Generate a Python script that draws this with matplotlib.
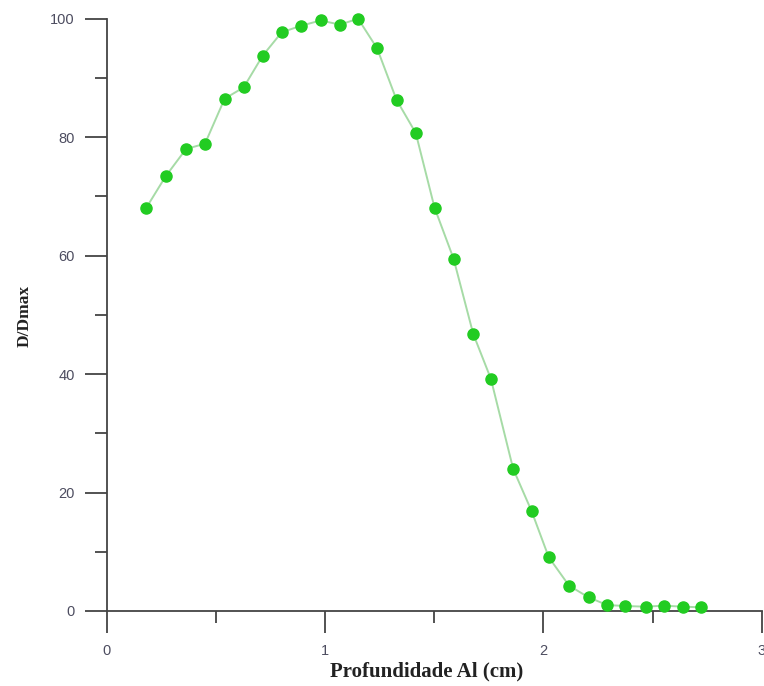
import matplotlib
matplotlib.use("Agg")
import matplotlib.pyplot as plt
from matplotlib.ticker import MultipleLocator

depth = [0.181, 0.271, 0.364, 0.451, 0.541, 0.628, 0.715, 0.802, 0.890, 0.980,
         1.069, 1.152, 1.239, 1.328, 1.416, 1.502, 1.589, 1.679, 1.760, 1.862,
         1.946, 2.025, 2.118, 2.207, 2.292, 2.376, 2.468, 2.551, 2.640, 2.722]
dose = [68.0, 73.4, 78.0, 78.9, 86.5, 88.4, 93.75, 97.7, 98.8, 99.7,
        99.0, 100.0, 95.0, 86.3, 80.7, 68.1, 59.5, 46.8, 39.2, 24.0,
        16.9, 9.07, 4.28, 2.31, 1.01, 0.84, 0.73, 0.90, 0.73, 0.62]
x_ticks = [0, 1, 2, 3]
y_ticks = [0, 20, 40, 60, 80, 100]
x_label = "Profundidade Al (cm)"
y_label = "D/Dmax"

W, H = 764, 686
fig = plt.figure(figsize=(W / 100, H / 100), dpi=100)
left, right = 106.5, 761.7
top, bottom = 18.7, 611.0
ax = fig.add_axes([left / W, 1 - bottom / H, (right - left) / W, (bottom - top) / H])

ax.plot(depth, dose, color="#a6dba6", lw=1.4, zorder=2, clip_on=False)
ax.plot(depth, dose, ls="none", marker="o", ms=8, mfc="#22cc22", mec="#22cc22",
        zorder=3, clip_on=False)

ax.set_xlim(0, 3)
ax.set_ylim(0, 100)
ax.set_xticks(x_ticks)
ax.set_yticks(y_ticks)
ax.xaxis.set_minor_locator(MultipleLocator(0.5))
ax.yaxis.set_minor_locator(MultipleLocator(10))

for s in ["top", "right"]:
    ax.spines[s].set_visible(False)
for s in ["left", "bottom"]:
    ax.spines[s].set_color("#444444")
    ax.spines[s].set_linewidth(1.3)

ax.tick_params(axis="both", which="major", direction="out", length=16, width=1.3,
               color="#444444", labelsize=10.5, labelcolor="#4d4d60")
ax.tick_params(axis="both", which="minor", direction="out", length=8.5, width=1.3,
               color="#444444")
ax.tick_params(axis="y", which="major", pad=7)
ax.tick_params(axis="x", which="major", pad=8)

for lab in ax.get_xticklabels() + ax.get_yticklabels():
    lab.set_fontfamily("Liberation Sans")

ax.set_xlabel(x_label, fontfamily="Liberation Serif", fontweight="bold", fontsize=15,
              color="#222222")
ax.set_ylabel(y_label, fontfamily="Liberation Serif", fontweight="bold", fontsize=12.5,
              color="#222222")
ax.xaxis.set_label_coords((427 - left) / (right - left), -(661 - bottom) / (bottom - top))
ax.xaxis.label.set_va("top")
ax.yaxis.set_label_coords(-(left - 25) / (right - left), (bottom - 316) / (bottom - top))
ax.yaxis.label.set_va("center")

fig.savefig("out.png", dpi=100, facecolor="white")
